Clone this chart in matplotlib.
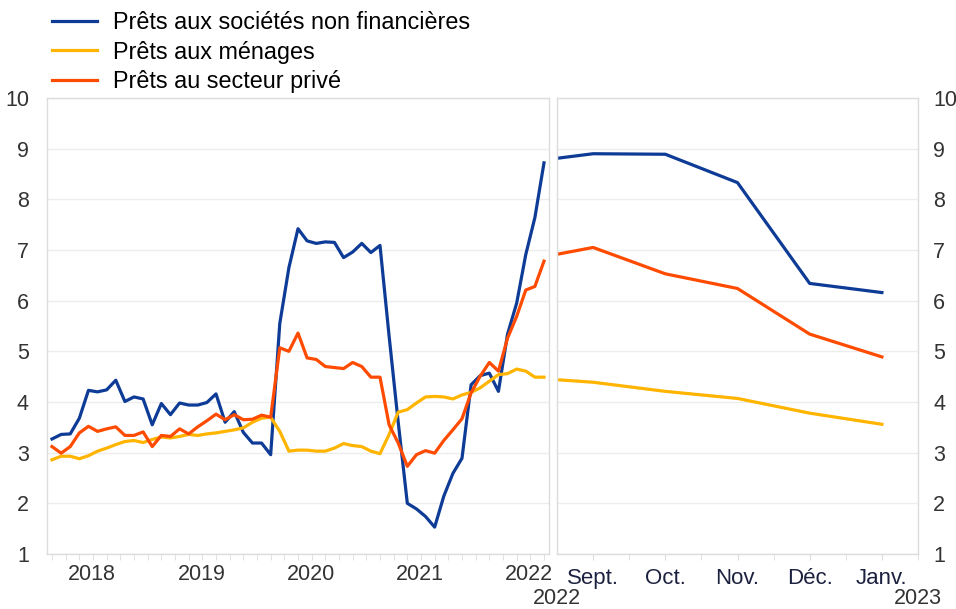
import numpy as np
import matplotlib.pyplot as plt

plt.rcParams['font.family'] = ['Liberation Sans', 'DejaVu Sans']

# series mensuelles (fév. 2018 - août 2022), en %
snf = [3.27, 3.36, 3.37, 3.68, 4.23, 4.20, 4.24, 4.43, 4.01, 4.10,
       4.06, 3.55, 3.97, 3.75, 3.98, 3.94, 3.94, 3.99, 4.16, 3.60,
       3.81, 3.40, 3.19, 3.19, 2.96, 5.55, 6.65, 7.42, 7.18, 7.13,
       7.16, 7.15, 6.85, 6.96, 7.13, 6.95, 7.09, 5.30, 3.60, 2.00,
       1.89, 1.74, 1.53, 2.14, 2.59, 2.89, 4.34, 4.52, 4.57, 4.21,
       5.34, 5.95, 6.91, 7.64, 8.72]
menages = [2.86, 2.93, 2.93, 2.88, 2.94, 3.03, 3.09, 3.16, 3.22, 3.24,
           3.20, 3.26, 3.31, 3.29, 3.32, 3.36, 3.34, 3.37, 3.39, 3.42,
           3.45, 3.49, 3.60, 3.68, 3.70, 3.42, 3.03, 3.05, 3.05, 3.03,
           3.03, 3.09, 3.18, 3.14, 3.12, 3.03, 2.98, 3.36, 3.80, 3.85,
           3.98, 4.10, 4.11, 4.10, 4.06, 4.14, 4.19, 4.28, 4.41, 4.54,
           4.56, 4.65, 4.61, 4.49, 4.49]
prive = [3.12, 2.99, 3.12, 3.39, 3.52, 3.42, 3.47, 3.51, 3.34, 3.34,
         3.41, 3.12, 3.34, 3.32, 3.47, 3.37, 3.51, 3.63, 3.76, 3.65,
         3.75, 3.65, 3.66, 3.74, 3.70, 5.07, 5.00, 5.36, 4.87, 4.84,
         4.70, 4.68, 4.66, 4.78, 4.70, 4.49, 4.49, 3.55, 3.19, 2.73,
         2.96, 3.04, 2.99, 3.24, 3.45, 3.67, 4.18, 4.51, 4.78, 4.61,
         5.26, 5.69, 6.21, 6.28, 6.78]
annees = ['2018', '2019', '2020', '2021', '2022']

# zoom août 2022 - janv. 2023
mois = ['Sept.', 'Oct.', 'Nov.', 'Déc.', 'Janv.']
snf_r = [8.72, 8.90, 8.89, 8.33, 6.34, 6.16]
menages_r = [4.49, 4.39, 4.21, 4.07, 3.78, 3.56]
prive_r = [6.78, 7.05, 6.53, 6.24, 5.34, 4.89]

bleu = '#0d3b96'
jaune = '#ffb400'
orange = '#ff4b00'
gris = '#dcdcdc'
txt = '#333333'

fig = plt.figure(figsize=(9.56, 6.09), dpi=100)
ax1 = fig.add_axes([47/956, 1-554/609, (549-47)/956, (554-98)/609])
ax2 = fig.add_axes([557/956, 1-554/609, (918-557)/956, (554-98)/609])

n = np.arange(len(snf))
ax1.plot(n, snf, color=bleu, lw=2.3, label='Prêts aux sociétés non financières')
ax1.plot(n, menages, color=jaune, lw=2.3, label='Prêts aux ménages')
ax1.plot(n, prive, color=orange, lw=2.3, label='Prêts au secteur privé')

m = np.arange(len(snf_r))
ax2.plot(m, snf_r, color=bleu, lw=2.3)
ax2.plot(m, menages_r, color=jaune, lw=2.3)
ax2.plot(m, prive_r, color=orange, lw=2.3)

for ax in (ax1, ax2):
    ax.set_ylim(1, 10)
    ax.set_yticks(range(1, 11))
    ax.grid(axis='y', color='#ededed', lw=1)
    ax.set_axisbelow(True)
    for s in ax.spines.values():
        s.set_color(gris)
        s.set_linewidth(1)

ax1.set_xlim(-0.55, len(snf) - 0.45)
ax1.set_xticks(np.arange(0, len(snf), 1.5), minor=True)
ax1.set_xticks(np.arange(len(annees)) * 12 + 4.4)
ax1.set_xticklabels(annees)
ax1.tick_params(axis='x', which='major', length=0, labelsize=15.5, labelcolor=txt, pad=7)
ax1.tick_params(axis='x', which='minor', length=4, color=gris)
ax1.tick_params(axis='y', length=0, labelsize=15.5, labelcolor=txt, pad=13)

ax2.set_xlim(0.5, 5.5)
ax2.set_xticks(np.arange(1, 6))
ax2.set_xticklabels(mois)
ax2.set_xticks(np.arange(1, 5.6, 0.5), minor=True)
ax2.tick_params(axis='x', which='major', length=4, color=gris, labelsize=16, labelcolor='#1c2140', pad=6)
ax2.tick_params(axis='x', which='minor', length=4, color=gris)
ax2.yaxis.tick_right()
ax2.tick_params(axis='y', length=0, labelsize=15.5, labelcolor=txt, pad=11)
ax2.set_yticklabels([str(v) for v in range(1, 11)])

fig.text(557/956, 1-598/609, '2022', ha='center', va='center', fontsize=15.5, color=txt)
fig.text(918/956, 1-598/609, '2023', ha='center', va='center', fontsize=15.5, color=txt)

fig.legend(loc='upper left', bbox_to_anchor=(52/956, 1-11/609), frameon=False,
           fontsize=16.8, handlelength=1.93, handletextpad=0.69, labelspacing=0.28,
           borderpad=0, borderaxespad=0)

fig.savefig('out.png', dpi=100, facecolor='white')
